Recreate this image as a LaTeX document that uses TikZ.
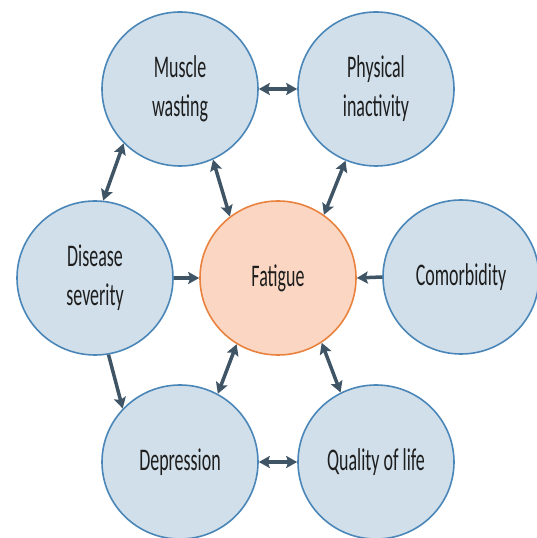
\documentclass[tikz,border=0pt]{standalone}
\usepackage{fontspec}
\setmainfont{Carlito}[FakeStretch=0.57]
\usetikzlibrary{arrows.meta,shapes.geometric}
\definecolor{blobfill}{HTML}{D0DFEA}
\definecolor{blobline}{HTML}{4A86B8}
\definecolor{hubfill}{HTML}{FBD7C3}
\definecolor{hubline}{HTML}{E9823F}
\definecolor{relcol}{HTML}{3F5566}
\definecolor{labelcol}{HTML}{1E1E1E}
\tikzset{
  blob/.style={ellipse, draw=blobline, fill=blobfill, line width=1.6pt,
    minimum width=156pt, minimum height=154pt, inner sep=0pt, align=center,
    font=\fontsize{31.5}{39}\selectfont, text=labelcol},
  hub/.style={blob, draw=hubline, fill=hubfill},
  rel/.style={draw=relcol, line width=3.5pt,
    -{Stealth[length=11pt,width=12pt,inset=2pt]}},
  relboth/.style={rel,
    {Stealth[length=11pt,width=12pt,inset=2pt]}-{Stealth[length=11pt,width=12pt,inset=2pt]}}
}
\begin{document}
\begin{tikzpicture}[x=1pt,y=1pt]
		\useasboundingbox (0,0) rectangle (537,538);

		\node[blob] (muscle) at (180,449) {Muscle\\wasting};
		\node[blob] (inact) at (376,449) {Physical\\inactivity};
		\node[blob] (severity) at (95,260) {Disease\\severity};
		\node[hub] (fatigue) at (278,260) {Fatigue};
		\node[blob] (comorb) at (461,261) {Comorbidity};
		\node[blob] (depress) at (180,76) {Depression};
		\node[blob] (quality) at (376,76) {Quality of life};

		\draw[relboth] (muscle.east) -- (inact.west);
		\draw[relboth] (muscle.-136) -- (severity.84);
		\draw[relboth] (muscle.-65) -- (fatigue.128);
		\draw[relboth] (inact.-113) -- (fatigue.54);
		\draw[rel] (severity.east) -- (fatigue.west);
		\draw[rel] (comorb.west) -- (fatigue.east);
		\draw[rel] (severity.-80) -- (depress.137);
		\draw[relboth] (fatigue.-122) -- (depress.61);
		\draw[relboth] (fatigue.-56) -- (quality.117);
		\draw[relboth] (depress.east) -- (quality.west);
	\end{tikzpicture}
\end{document}
